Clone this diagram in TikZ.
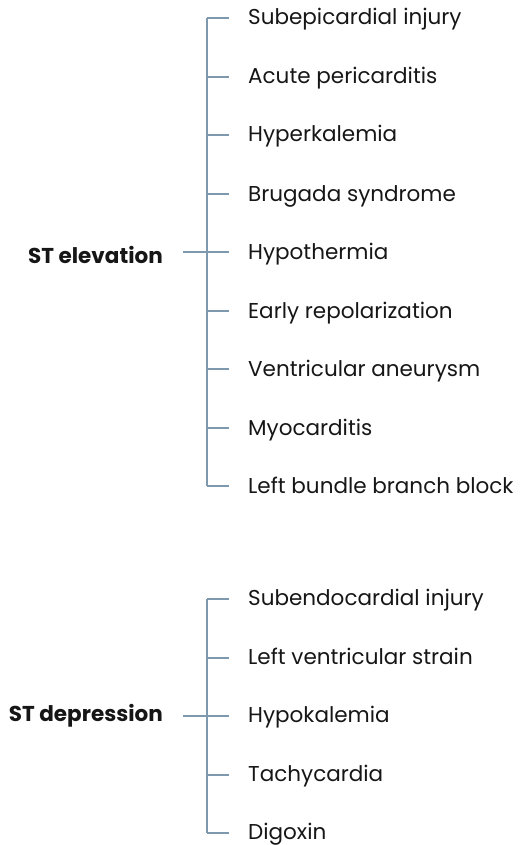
\documentclass[tikz,border=0pt]{standalone}
\usepackage{fontspec}
\setmainfont{Poppins}
\definecolor{linec}{HTML}{7E98AD}
\definecolor{txt}{HTML}{161616}
\begin{document}
\begin{tikzpicture}[x=1pt,y=-1pt,
  item/.style={anchor=base west,inner sep=0pt,font=\fontsize{21.5}{24}\selectfont,text=txt},
  root/.style={anchor=base east,inner sep=0pt,font=\fontsize{21.5}{24}\selectfont\bfseries,text=txt},
  conn/.style={draw=linec,line width=1.4pt}]
\useasboundingbox (0,0) rectangle (523,845);
% ST elevation
\node[root] (e) at (163,263) {ST elevation};
\foreach \y/\t [count=\i] in {18/Subepicardial injury,77/Acute pericarditis,135/Hyperkalemia,194/Brugada syndrome,252/Hypothermia,311/Early repolarization,369/Ventricular aneurysm,428/Myocarditis,486/Left bundle branch block}{
  \node[item] (e\i) at (248,\y+7) {\t};
  \coordinate (ea\i) at (229,\y);
  \coordinate (eb\i) at (207,\y);
  \draw[conn] (eb\i) -- (ea\i);
}
\coordinate (ej) at (183,252);
\draw[conn] (ej) -- (eb5);
\draw[conn] (eb1) -- (eb9);
% ST depression
\node[root] (d) at (163,721.5) {ST depression};
\foreach \y/\t [count=\i] in {599/Subendocardial injury,658/Left ventricular strain,716/Hypokalemia,775/Tachycardia,833/Digoxin}{
  \node[item] (d\i) at (248,\y+6) {\t};
  \coordinate (da\i) at (229,\y);
  \coordinate (db\i) at (207,\y);
  \draw[conn] (db\i) -- (da\i);
}
\coordinate (dj) at (183,716);
\draw[conn] (dj) -- (db3);
\draw[conn] (db1) -- (db5);
\end{tikzpicture}
\end{document}
